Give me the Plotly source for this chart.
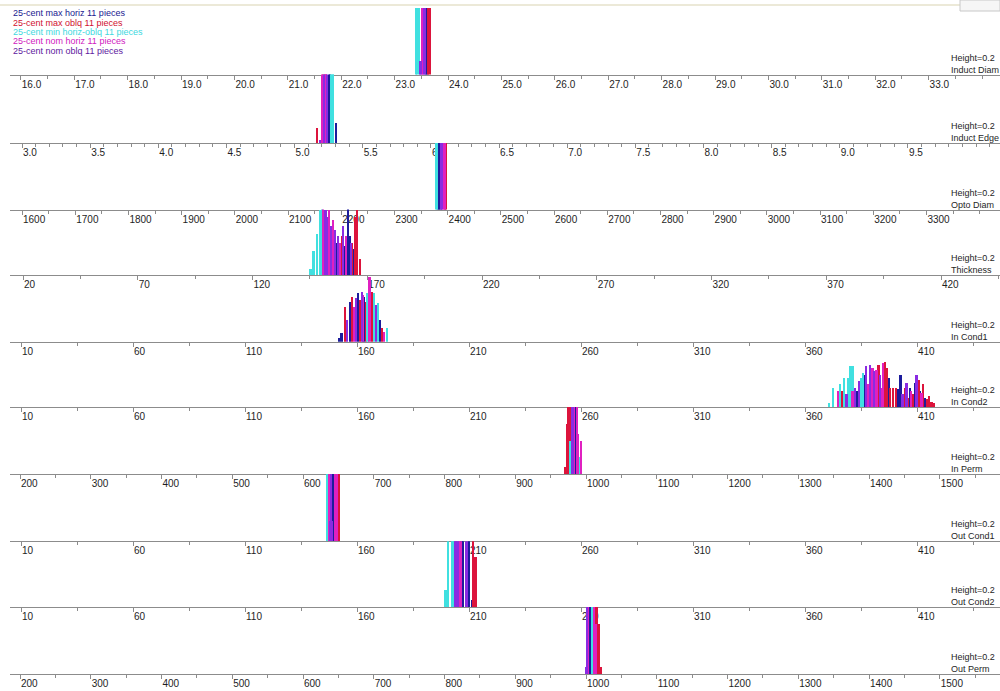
import plotly.graph_objects as go

# ---------------- data ----------------
SERIES = [
    "25-cent max horiz 11 pieces",
    "25-cent max oblq 11 pieces",
    "25-cent min horiz-oblq 11 pieces",
    "25-cent nom horiz 11 pieces",
    "25-cent nom oblq 11 pieces",
]
SERIES_COLORS = ["#1c1c9c", "#dc143c", "#40e0e0", "#e020c0", "#8a2be2"]
LEGEND_COLORS = ["#202090", "#d01030", "#40d8e0", "#d020c0", "#6020a0"]

PANEL_NAMES = ["Induct Diam", "Induct Edge", "Opto Diam", "Thickness", "In Cond1",
               "In Cond2", "In Perm", "Out Cond1", "Out Cond2", "Out Perm"]
HEIGHT_NOTE = "Height=0.2"
Y_FULL = 0.2

TICKS_INDUCT_DIAM = [16.0, 17.0, 18.0, 19.0, 20.0, 21.0, 22.0, 23.0, 24.0, 25.0,
                     26.0, 27.0, 28.0, 29.0, 30.0, 31.0, 32.0, 33.0]
TICKS_INDUCT_EDGE = [3.0, 3.5, 4.0, 4.5, 5.0, 5.5, 6.0, 6.5, 7.0, 7.5, 8.0, 8.5, 9.0, 9.5]
TICKS_OPTO_DIAM = [1600, 1700, 1800, 1900, 2000, 2100, 2200, 2300, 2400, 2500,
                   2600, 2700, 2800, 2900, 3000, 3100, 3200, 3300]
TICKS_THICKNESS = [20, 70, 120, 170, 220, 270, 320, 370, 420]
TICKS_COND = [10, 60, 110, 160, 210, 260, 310, 360, 410]
TICKS_PERM = [200, 300, 400, 500, 600, 700, 800, 900, 1000, 1100, 1200, 1300, 1400, 1500]

# spike positions / heights, one list per series in SERIES order
induct_diam_pos = [[23.59, 23.61], [23.63, 23.66], [23.40, 23.43, 23.46],
                   [23.52, 23.54], [23.48, 23.50, 23.55, 23.57]]
induct_diam_h = [[0.3, 0.3], [0.3, 0.3], [0.3, 0.3, 0.3],
                 [0.3, 0.3], [0.04, 0.04, 0.3, 0.3]]

induct_edge_pos = [[5.256, 5.262, 5.304], [5.165, 5.212, 5.228], [5.27, 5.28, 5.284],
                   [5.205, 5.222, 5.233], [5.186, 5.218, 5.24]]
induct_edge_h = [[0.25, 0.25, 0.06], [0.045, 0.25, 0.25], [0.25, 0.25, 0.25],
                 [0.25, 0.25, 0.25], [0.01, 0.25, 0.25]]

opto_diam_pos = [[2383, 2385, 2387], [2396, 2398], [2379, 2381],
                 [2391, 2393, 2395], [2388, 2390]]
opto_diam_h = [[0.25, 0.25, 0.25], [0.25, 0.25], [0.25, 0.25],
               [0.25, 0.25, 0.25], [0.25, 0.25]]

thickness_pos = [[156.4, 159.8, 161.8, 162.6, 163.7],
                 [158.3, 159.0, 163.3, 164.8, 165.7, 167.0],
                 [145.4, 146.7, 148.1, 149.4, 150.3],
                 [151.0, 153.3, 155.3, 158.1, 160.7],
                 [151.9, 152.7, 154.2, 155.9, 157.2, 159.4, 162.9]]
thickness_h = [[0.1, 0.09, 0.22, 0.12, 0.08],
               [0.09, 0.12, 0.1, 0.18, 0.2, 0.05],
               [0.02, 0.075, 0.126, 0.2, 0.21],
               [0.22, 0.2, 0.17, 0.1, 0.12],
               [0.2, 0.18, 0.15, 0.14, 0.12, 0.15, 0.1]]

in_cond1_pos = [[152.0, 153.2, 157.0, 160.6, 163.3, 170.4],
                [154.6, 157.9, 161.5, 164.2, 166.7, 171.3],
                [164.8, 167.6, 169.5, 173.4],
                [158.8, 162.9, 165.7, 172.1],
                [155.8, 159.7, 162.4, 168.5]]
in_cond1_h = [[0.01, 0.025, 0.12, 0.145, 0.135, 0.065],
              [0.105, 0.135, 0.125, 0.12, 0.15, 0.04],
              [0.145, 0.145, 0.115, 0.04],
              [0.105, 0.14, 0.195, 0.03],
              [0.065, 0.13, 0.15, 0.11]]

in_cond2_pos = [[383.4, 386.8, 388.7, 391.4, 397.4, 401.8, 402.7, 406.9, 409.1, 411.2, 413.7],
                [376.8, 392.9, 395.8, 396.7, 397.9, 399.4, 400.9, 404.6, 406.1, 408.3,
                 410.8, 412.8, 414.6, 415.5, 416.6, 417.7],
                [370.9, 372.6, 375.6, 377.5, 379.3, 380.4, 381.6, 385.3, 386.0],
                [374.9, 381.3, 388.0, 390.2, 392.0, 394.2, 395.0, 407.6, 412.1],
                [378.6, 382.3, 384.2, 387.5, 389.3, 390.8, 393.5, 403.6, 405.4, 409.9]]
in_cond2_h = [[0.05, 0.1, 0.05, 0.09, 0.09, 0.055, 0.1, 0.06, 0.075, 0.05, 0.03],
              [0.05, 0.13, 0.14, 0.12, 0.06, 0.06, 0.06, 0.06, 0.03, 0.04,
               0.085, 0.07, 0.025, 0.035, 0.015, 0.012],
              [0.012, 0.06, 0.07, 0.09, 0.09, 0.125, 0.125, 0.09, 0.105],
              [0.05, 0.05, 0.07, 0.12, 0.115, 0.06, 0.135, 0.05, 0.045],
              [0.04, 0.06, 0.08, 0.125, 0.13, 0.11, 0.1, 0.04, 0.075, 0.1]]

in_perm_pos = [[979.5, 984.5, 986.0], [970.3, 973.5, 975.5, 977.4], [978.5, 990.0],
               [983.5, 987.5, 989.0, 993.0], [981.0, 982.5]]
in_perm_h = [[0.25, 0.25, 0.12], [0.02, 0.15, 0.25, 0.25], [0.1, 0.05],
             [0.25, 0.25, 0.12, 0.1], [0.25, 0.25]]

out_cond1_pos = [[149.3, 149.6], [150.6, 151.5, 152.1], [146.7, 147.0],
                 [147.7, 150.2, 151.0], [148.0, 148.5, 149.0]]
out_cond1_h = [[0.25, 0.25], [0.25, 0.2, 0.25], [0.25, 0.25],
               [0.25, 0.25, 0.2], [0.06, 0.25, 0.06]]

out_cond2_pos = [[206.8, 207.5, 210.1, 211.3], [211.9, 213.0], [199.6, 200.8, 202.4, 202.9],
                 [204.0, 205.5, 206.3], [203.8, 204.4, 205.0, 209.0]]
out_cond2_h = [[0.25, 0.25, 0.25, 0.02], [0.25, 0.15], [0.05, 0.25, 0.25, 0.25],
               [0.04, 0.25, 0.25], [0.25, 0.25, 0.25, 0.25]]

out_perm_pos = [[1006.0, 1007.5], [1013.0, 1016.3, 1018.4, 1021.0], [1009.5, 1010.5],
                [1003.3, 1012.0, 1014.5], [1000.5, 1002.0]]
out_perm_h = [[0.25, 0.25], [0.25, 0.2, 0.15, 0.02], [0.25, 0.25],
              [0.25, 0.25, 0.15], [0.02, 0.25]]

# ---------------- layout helpers ----------------
W, H = 1000, 691
ML, MR, MT, MB = 10, 0, 8, 17
PLOT_W = W - ML - MR
AXIS_PX = [74.5, 143, 209.5, 275, 341.7, 407, 474, 541.3, 607, 674]
TOP_PX = MT
BOTTOM_PX = H - MB


def ypaper(px):
    return (BOTTOM_PX - px) / (BOTTOM_PX - TOP_PX)


def xpaper(px):
    return (px - ML) / PLOT_W


def xrange_from(v_ref, px_ref, ppu):
    return [v_ref - (px_ref - ML) / ppu, v_ref + (W - MR - px_ref) / ppu]


panels = [
    (induct_diam_pos, induct_diam_h, TICKS_INDUCT_DIAM, "{:.1f}", (16.0, 20.8, 53.4), 0.5),
    (induct_edge_pos, induct_edge_h, TICKS_INDUCT_EDGE, "{:.1f}", (3.0, 22.0, 136.3), 0.1),
    (opto_diam_pos, opto_diam_h, TICKS_OPTO_DIAM, "{:d}", (1600, 22.0, 0.532), 50),
    (thickness_pos, thickness_h, TICKS_THICKNESS, "{:d}", (20, 23.0, 2.295), 25),
    (in_cond1_pos, in_cond1_h, TICKS_COND, "{:d}", (10, 21.0, 2.24), 25),
    (in_cond2_pos, in_cond2_h, TICKS_COND, "{:d}", (10, 21.0, 2.24), 25),
    (in_perm_pos, in_perm_h, TICKS_PERM, "{:d}", (200, 20.0, 0.7075), 50),
    (out_cond1_pos, out_cond1_h, TICKS_COND, "{:d}", (10, 21.0, 2.24), 25),
    (out_cond2_pos, out_cond2_h, TICKS_COND, "{:d}", (10, 21.0, 2.24), 25),
    (out_perm_pos, out_perm_h, TICKS_PERM, "{:d}", (200, 20.0, 0.7075), 50),
]

fig = go.Figure()
layout_axes = {}
annotations = []
TICK_FONT = dict(family="Liberation Sans, Arial, sans-serif", size=10, color="#1e1e1e")
AXIS_GRAY = "#8c8c8c"

for k, (pos, hts, ticks, fmt, (vref, pxref, ppu), minor_dt) in enumerate(panels):
    sfx = "" if k == 0 else str(k + 1)
    rng = xrange_from(vref, pxref, ppu)
    bar_w = 1.7 / ppu
    for s in range(len(SERIES)):
        fig.add_trace(go.Bar(
            x=pos[s], y=hts[s], width=bar_w,
            marker=dict(color=SERIES_COLORS[s], line=dict(width=0)),
            xaxis="x" + sfx, yaxis="y" + sfx,
            name=SERIES[s], showlegend=False, hoverinfo="x+y+name",
        ))
    top = TOP_PX if k == 0 else AXIS_PX[k - 1]
    dom = [ypaper(AXIS_PX[k]), ypaper(top)]
    layout_axes["xaxis" + sfx] = dict(
        domain=[0, 1], anchor="y" + sfx, range=rng,
        tickmode="array", tickvals=ticks,
        ticktext=[fmt.format(t) for t in ticks],
        ticks="outside", ticklen=4, tickcolor=AXIS_GRAY, tickwidth=1,
        ticklabelposition="outside right",
        showline=True, linecolor=AXIS_GRAY, linewidth=1,
        showgrid=False, zeroline=False, tickfont=TICK_FONT,
        minor=dict(ticks="outside", ticklen=3, tickcolor=AXIS_GRAY,
                   dtick=minor_dt, tick0=ticks[0], showgrid=False),
        fixedrange=True,
    )
    layout_axes["yaxis" + sfx] = dict(
        domain=dom, anchor="x" + sfx, range=[0, Y_FULL], visible=False, fixedrange=True,
    )
    annotations.append(dict(
        xref="paper", yref="paper", x=xpaper(950), y=ypaper(AXIS_PX[k]),
        xanchor="left", yanchor="bottom", showarrow=False, align="left",
        text=HEIGHT_NOTE + "<br>" + PANEL_NAMES[k],
        font=dict(family="Liberation Sans, Arial, sans-serif", size=9, color="#1e1e1e"),
        borderpad=0, yshift=-1,
    ))

# legend as coloured text lines
for i, name in enumerate(SERIES):
    annotations.append(dict(
        xref="paper", yref="paper", x=xpaper(12), y=ypaper(13.5 + 9.3 * i),
        xanchor="left", yanchor="middle", showarrow=False, text=name,
        font=dict(family="Liberation Sans, Arial, sans-serif", size=9, color=LEGEND_COLORS[i]),
        borderpad=0,
    ))

fig.update_layout(
    width=W, height=H,
    margin=dict(l=ML, r=MR, t=MT, b=MB),
    paper_bgcolor="white", plot_bgcolor="rgba(0,0,0,0)",
    barmode="overlay", bargap=0,
    showlegend=False,
    annotations=annotations,
    shapes=[
        dict(type="line", xref="paper", yref="paper", x0=xpaper(0), x1=xpaper(960),
             y0=ypaper(5), y1=ypaper(5), line=dict(color="#ece9d8", width=2),
             layer="below"),
        dict(type="rect", xref="paper", yref="paper", x0=xpaper(960), x1=xpaper(1000),
             y0=ypaper(11), y1=ypaper(0), line=dict(color="#c8c8c8", width=1),
             fillcolor="#f6f6f6", layer="below"),
    ],
    **layout_axes,
)

fig.write_html("out.html",
               config={"displayModeBar": False},
               post_script="document.body.style.margin='0px';"
                           "document.body.style.overflow='hidden';")
